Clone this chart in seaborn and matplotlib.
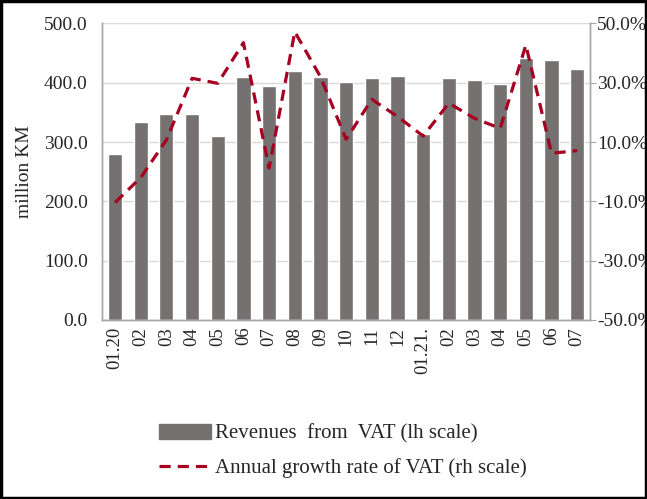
import numpy as np
import pandas as pd
import seaborn as sns
from matplotlib import pyplot as plt
from matplotlib.patches import Patch, Rectangle
from matplotlib.lines import Line2D
from matplotlib.ticker import FuncFormatter

months = ["01.20", "02", "03", "04", "05", "06", "07", "08", "09", "10", "11", "12",
          "01.21.", "02", "03", "04", "05", "06", "07"]
revenues = [280, 333, 347, 347, 310, 409, 394, 420, 410, 402, 408, 412,
            313, 408, 405, 398, 442, 438, 423]
growth = [-10.4, -2.0, 10.7, 31.5, 29.8, 43.5, 1.2, 47.2, 32.0, 10.9, 24.4, 18.6,
          12.0, 23.1, 18.0, 14.6, 42.7, 6.2, 7.1]

bar_color = "#767171"
line_color = "#A50021"

sns.set_style("white")
plt.rcParams['font.family'] = ['Liberation Serif', 'DejaVu Serif']

df = pd.DataFrame({"pos": np.arange(len(months)), "rev": revenues, "g": growth})

fig = plt.figure(figsize=(6.47, 4.99), dpi=100)
ax = fig.add_axes([0.158, 0.359, 0.754, 0.594])

sns.barplot(data=df, x="pos", y="rev", color=bar_color, width=0.55,
            saturation=1, ax=ax, zorder=2)
ax.set_ylim(0, 500)
ax.set_yticks(np.arange(0, 501, 100))
ax.yaxis.set_major_formatter(FuncFormatter(lambda v, p: f"{v:.1f}"))
ax.set_ylabel("million KM", fontsize=14, labelpad=8)
ax.set_xlabel("")
ax.set_xticks(df["pos"])
ax.set_xticklabels(months, rotation=90, fontsize=13.5)
ax.tick_params(axis="y", labelsize=14, length=0, pad=10.5)
ax.tick_params(axis="x", length=0, pad=5)
ax.grid(axis="y", color="#d9d9d9", lw=1, zorder=0)
ax.set_axisbelow(True)
ax.set_xlim(-0.5, len(months) - 0.5)

ax2 = ax.twinx()
sns.lineplot(data=df, x="pos", y="g", color=line_color, lw=2.3, ax=ax2)
ax2.lines[0].set_dashes([3.5, 2.2])
ax2.set_ylim(-50, 50)
ax2.set_yticks(np.arange(-50, 51, 20))
ax2.yaxis.set_major_formatter(FuncFormatter(lambda v, p: f"{v:.1f}%"))
ax2.set_ylabel("")
ax2.tick_params(axis="y", labelsize=14, length=4, color="#a6a6a6", direction="out", pad=1)

for a in (ax, ax2):
    a.spines["top"].set_visible(False)
    for s in ("left", "right", "bottom"):
        a.spines[s].set_color("#a6a6a6")
        a.spines[s].set_linewidth(1)

handles = [Patch(facecolor=bar_color, edgecolor=bar_color),
           Line2D([], [], color=line_color, lw=2.3, dashes=[3.5, 2.2])]
labels = ["Revenues  from  VAT (lh scale)", "Annual growth rate of VAT (rh scale)"]
fig.legend(handles, labels, loc="upper left", bbox_to_anchor=(0.23, 0.171),
           frameon=False, fontsize=15, handlelength=2.5, handleheight=0.7,
           handletextpad=0.2, labelspacing=0.7, borderpad=0)

fig.patches.append(Rectangle((0.002, 0.002), 0.996, 0.996, transform=fig.transFigure,
                             fill=False, edgecolor="black", lw=2.5))

plt.savefig("out.png", dpi=100)
